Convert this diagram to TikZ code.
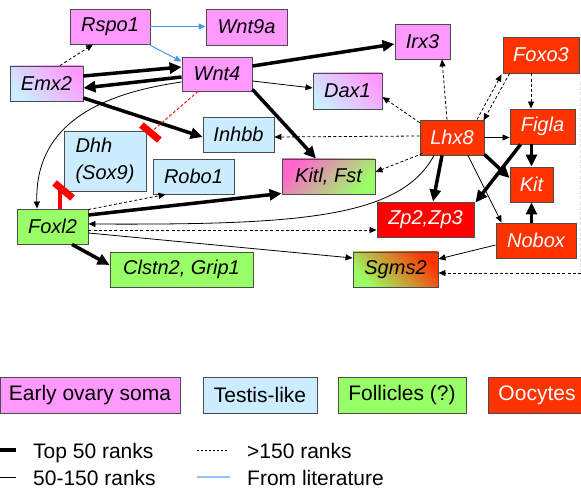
\documentclass[tikz,border=0pt]{standalone}
\usepackage{fontspec}
\setmainfont{Liberation Sans}
\usetikzlibrary{arrows.meta}
\definecolor{pinkA}{RGB}{255,153,255}
\definecolor{blueA}{RGB}{204,236,255}
\definecolor{greenA}{RGB}{153,255,102}
\definecolor{oocA}{RGB}{255,51,0}
\definecolor{zpred}{RGB}{255,0,0}
\definecolor{pinkK}{RGB}{255,102,204}
\definecolor{litblue}{RGB}{70,150,245}
\definecolor{legblue}{RGB}{140,195,255}
\newcommand\gnf{\fontsize{20}{27}\selectfont\itshape}
\newcommand\lgf{\fontsize{21}{25}\selectfont}
\begin{document}
\begin{tikzpicture}[x=1pt,y=-1pt,
  box/.style={draw=black!70, line width=0.9pt, inner sep=0pt, minimum height=35pt, font=\gnf},
  ooc/.style={box, fill=oocA, text=white},
  lgbox/.style={draw=black!70, line width=0.9pt, inner sep=0pt, minimum height=36pt, font=\lgf},
  lgtext/.style={inner sep=0pt, font=\lgf},
  thk/.style={line width=3.5pt, -{Triangle[length=12pt,width=11pt]}},
  thn/.style={line width=0.8pt, -{Triangle[length=7pt,width=6pt]}},
  dsh/.style={thn, dash pattern=on 3pt off 2.2pt},
  lit/.style={line width=1pt, draw=litblue, -{Triangle[length=7pt,width=6pt]}, color=litblue},
  inhib/.style={red, line width=7pt}
]
\path[use as bounding box, clip] (0,0) rectangle (581,489);

% nodes
\node[box, fill=pinkA, minimum width=80pt] (rspo) at (110,26.5) {Rspo1};
\node[box, fill=pinkA, minimum width=81pt, minimum height=36pt] (wnt9a) at (246.5,27) {Wnt9a};
\node[box, fill=pinkA, minimum width=70pt, minimum height=34pt] (wnt4) at (217,74) {Wnt4};
\node[box, left color=blueA, right color=pinkA, shading angle=135, minimum width=73pt] (emx2) at (46.5,83.5) {Emx2};
\node[box, fill=pinkA, minimum width=55pt] (irx3) at (422.5,41.5) {Irx3};
\node[ooc, minimum width=76pt, minimum height=36pt] (foxo3) at (541,55) {Foxo3};
\node[box, left color=blueA, right color=pinkA, shading angle=135, minimum width=69pt, minimum height=36pt] (dax1) at (347.5,91) {Dax1};
\node[box, fill=blueA, minimum width=71pt] (inhbb) at (238.5,134.5) {Inhbb};
\node[box, fill=blueA, minimum width=82pt, minimum height=60pt, align=left] (dhh) at (105,161) {Dhh\\(Sox9)};
\node[ooc, minimum width=64pt] (lhx8) at (452,137.5) {Lhx8};
\node[ooc, minimum width=65pt] (figla) at (542.5,126.5) {Figla};
\node[box, fill=blueA, minimum width=81pt] (robo1) at (193.5,176.5) {Robo1};
\node[box, left color=pinkK, right color=greenA, shading angle=45, minimum width=93pt] (kitl) at (328.5,176.5) {Kitl, Fst};
\node[ooc, minimum width=43pt] (kit) at (531.5,184.5) {Kit};
\node[box, fill=greenA, minimum width=71pt] (foxl2) at (52.5,226.5) {Foxl2};
\node[box, fill=zpred, text=white, minimum width=97pt] (zp) at (425.5,219.5) {Zp2,Zp3};
\node[ooc, minimum width=80pt] (nobox) at (536,240.5) {Nobox};
\node[box, fill=greenA, minimum width=143pt] (clstn) at (181.5,269.5) {Clstn2, Grip1};
\node[box, left color=greenA, right color=oocA, shading angle=135, minimum width=85pt] (sgms2) at (395.5,269.5) {Sgms2};

% connectors
\draw[lit] (rspo.east) -- (wnt9a.west |- rspo.east);
\draw[lit] ([yshift=-1pt]rspo.south east) -- ([yshift=-5pt]wnt4.north west);
\draw[dsh] ([xshift=13.5pt]emx2.north) -- ([xshift=-17pt]rspo.south);
\draw[thk] ([yshift=7.5pt]emx2.east) -- ([yshift=7pt]wnt4.west);
\draw[thk] ([yshift=-3pt]wnt4.west) -- ([yshift=-4.5pt]emx2.east);
\draw[thk] ([yshift=-14.5pt]emx2.east) -- ([yshift=-2.5pt]inhbb.west);
\draw[thk] ([yshift=8pt]wnt4.east) -- ([yshift=-2.5pt]irx3.west);
\draw[thn] ([yshift=-7pt]wnt4.east) -- ([yshift=3pt]dax1.west);
\draw[thk] ([yshift=2pt]wnt4.south east) -- ([xshift=-12.5pt]kitl.north);
\draw[thn] ([yshift=-8pt]wnt4.west) .. controls (90,95) and (35,130) .. ([xshift=-15.5pt]foxl2.north);

\coordinate (bar1) at ([xshift=4pt,yshift=-2pt]dhh.north east);
\draw[red, line width=0.9pt, dash pattern=on 3pt off 2pt] ([xshift=-19pt]wnt4.south) -- (bar1);
\draw[inhib] ([shift={(-9,-7.5)}]bar1) -- ([shift={(9,7.5)}]bar1);
\coordinate (bar2) at ([yshift=1pt]dhh.south west);
\draw[red, line width=3.5pt] ([xshift=7.5pt]foxl2.north) -- ([xshift=7.5pt]foxl2.north |- bar2);
\draw[inhib] ([shift={(-9,-7.5)}]bar2) -- ([shift={(9,7.5)}]bar2);

\draw[dsh] ([yshift=-1pt]foxl2.north east) -- ([xshift=13pt]robo1.south west);
\draw[thk] ([yshift=11.5pt]foxl2.east) -- ([yshift=1pt]kitl.south west);
\draw[thn] ([xshift=-18pt]lhx8.south) .. controls (400,218) and (300,225) .. ([yshift=2.5pt]foxl2.east);
\draw[dsh] ([yshift=-3.5pt]foxl2.east) -- ([yshift=-10.5pt]zp.west);
\draw[thn] ([yshift=-6.5pt]foxl2.east) -- ([yshift=11.5pt]sgms2.west);
\draw[thk] ([xshift=19.5pt]foxl2.south) -- ([yshift=4.5pt]clstn.west);

\draw[dsh] ([xshift=-5pt]lhx8.north) -- ([xshift=19.5pt]irx3.south);
\draw[dsh] ([yshift=-3pt]lhx8.north west) -- ([yshift=-6pt]dax1.east);
\draw[dsh] ([yshift=1.5pt]lhx8.west) -- ([yshift=-2.5pt]inhbb.east);
\draw[dsh] ([xshift=3pt,yshift=2pt]lhx8.south west) -- ([yshift=4.5pt]kitl.east);
\draw[dsh] ([xshift=25pt]lhx8.north) -- ([xshift=-1pt,yshift=-1pt]foxo3.south west);
\draw[dsh] ([xshift=7pt]foxo3.south west) -- ([xshift=-1pt,yshift=-1pt]lhx8.north east);
\draw[dsh] ([xshift=-10pt]foxo3.south) -- ([xshift=-11.5pt]figla.north);
\draw[thn] (lhx8.east) -- (lhx8.east -| figla.west);
\draw[thk] (kit.north |- figla.south) -- (kit.north);
\draw[thk] ([yshift=1pt]lhx8.south east) -- ([yshift=6.5pt]kit.west);
\draw[thk] ([xshift=11pt]figla.south west) -- ([xshift=1pt,yshift=-1pt]zp.north east);
\draw[thk] ([xshift=-10pt]lhx8.south) -- ([xshift=7.5pt]zp.north);
\draw[thn] ([xshift=16pt]lhx8.south) -- ([xshift=6pt]nobox.north west);
\draw[thk] (kit.south |- nobox.north) -- (kit.south);
\draw[thn] ([yshift=-4.5pt]nobox.west) -- ([yshift=10.5pt]sgms2.east);
\coordinate (offr) at (581,273);
\coordinate (offt) at (580.5,82);
\draw[gray!25, line width=0.8pt, dash pattern=on 3pt off 2.2pt] (offt) -- (offt |- offr);
\draw[dsh] (offr) -- ([yshift=-3.5pt]sgms2.east);

% legend
\node[lgbox, fill=pinkA, minimum width=180pt] (l1) at (90,395) {Early ovary soma};
\node[lgbox, fill=blueA, minimum width=114pt] (l2) at (260,395) {Testis-like};
\node[lgbox, fill=greenA, minimum width=128pt] (l3) at (402,395) {Follicles (?)};
\node[lgbox, fill=oocA, minimum width=112pt, anchor=west] (l4) at (488,395) {};
\node[lgtext, text=white] (l4t) at (537,395) {Oocytes};

\draw[line width=4pt] (0,450) -- (16,450);
\node[lgtext, anchor=base west] (t1) at (33,458) {Top 50 ranks};
\draw[line width=1pt] (0,477) -- (16,477);
\node[lgtext, anchor=base west] (t2) at (33,485) {50-150 ranks};
\draw[line width=0.8pt, dash pattern=on 2.2pt off 1.8pt] (197,450) -- (228,450);
\node[lgtext, anchor=base west] (t3) at (247,458) {>150 ranks};
\draw[legblue, line width=1.5pt] (197,477) -- (230,477);
\node[lgtext, anchor=base west] (t4) at (247,485) {From literature};
\end{tikzpicture}
\end{document}
